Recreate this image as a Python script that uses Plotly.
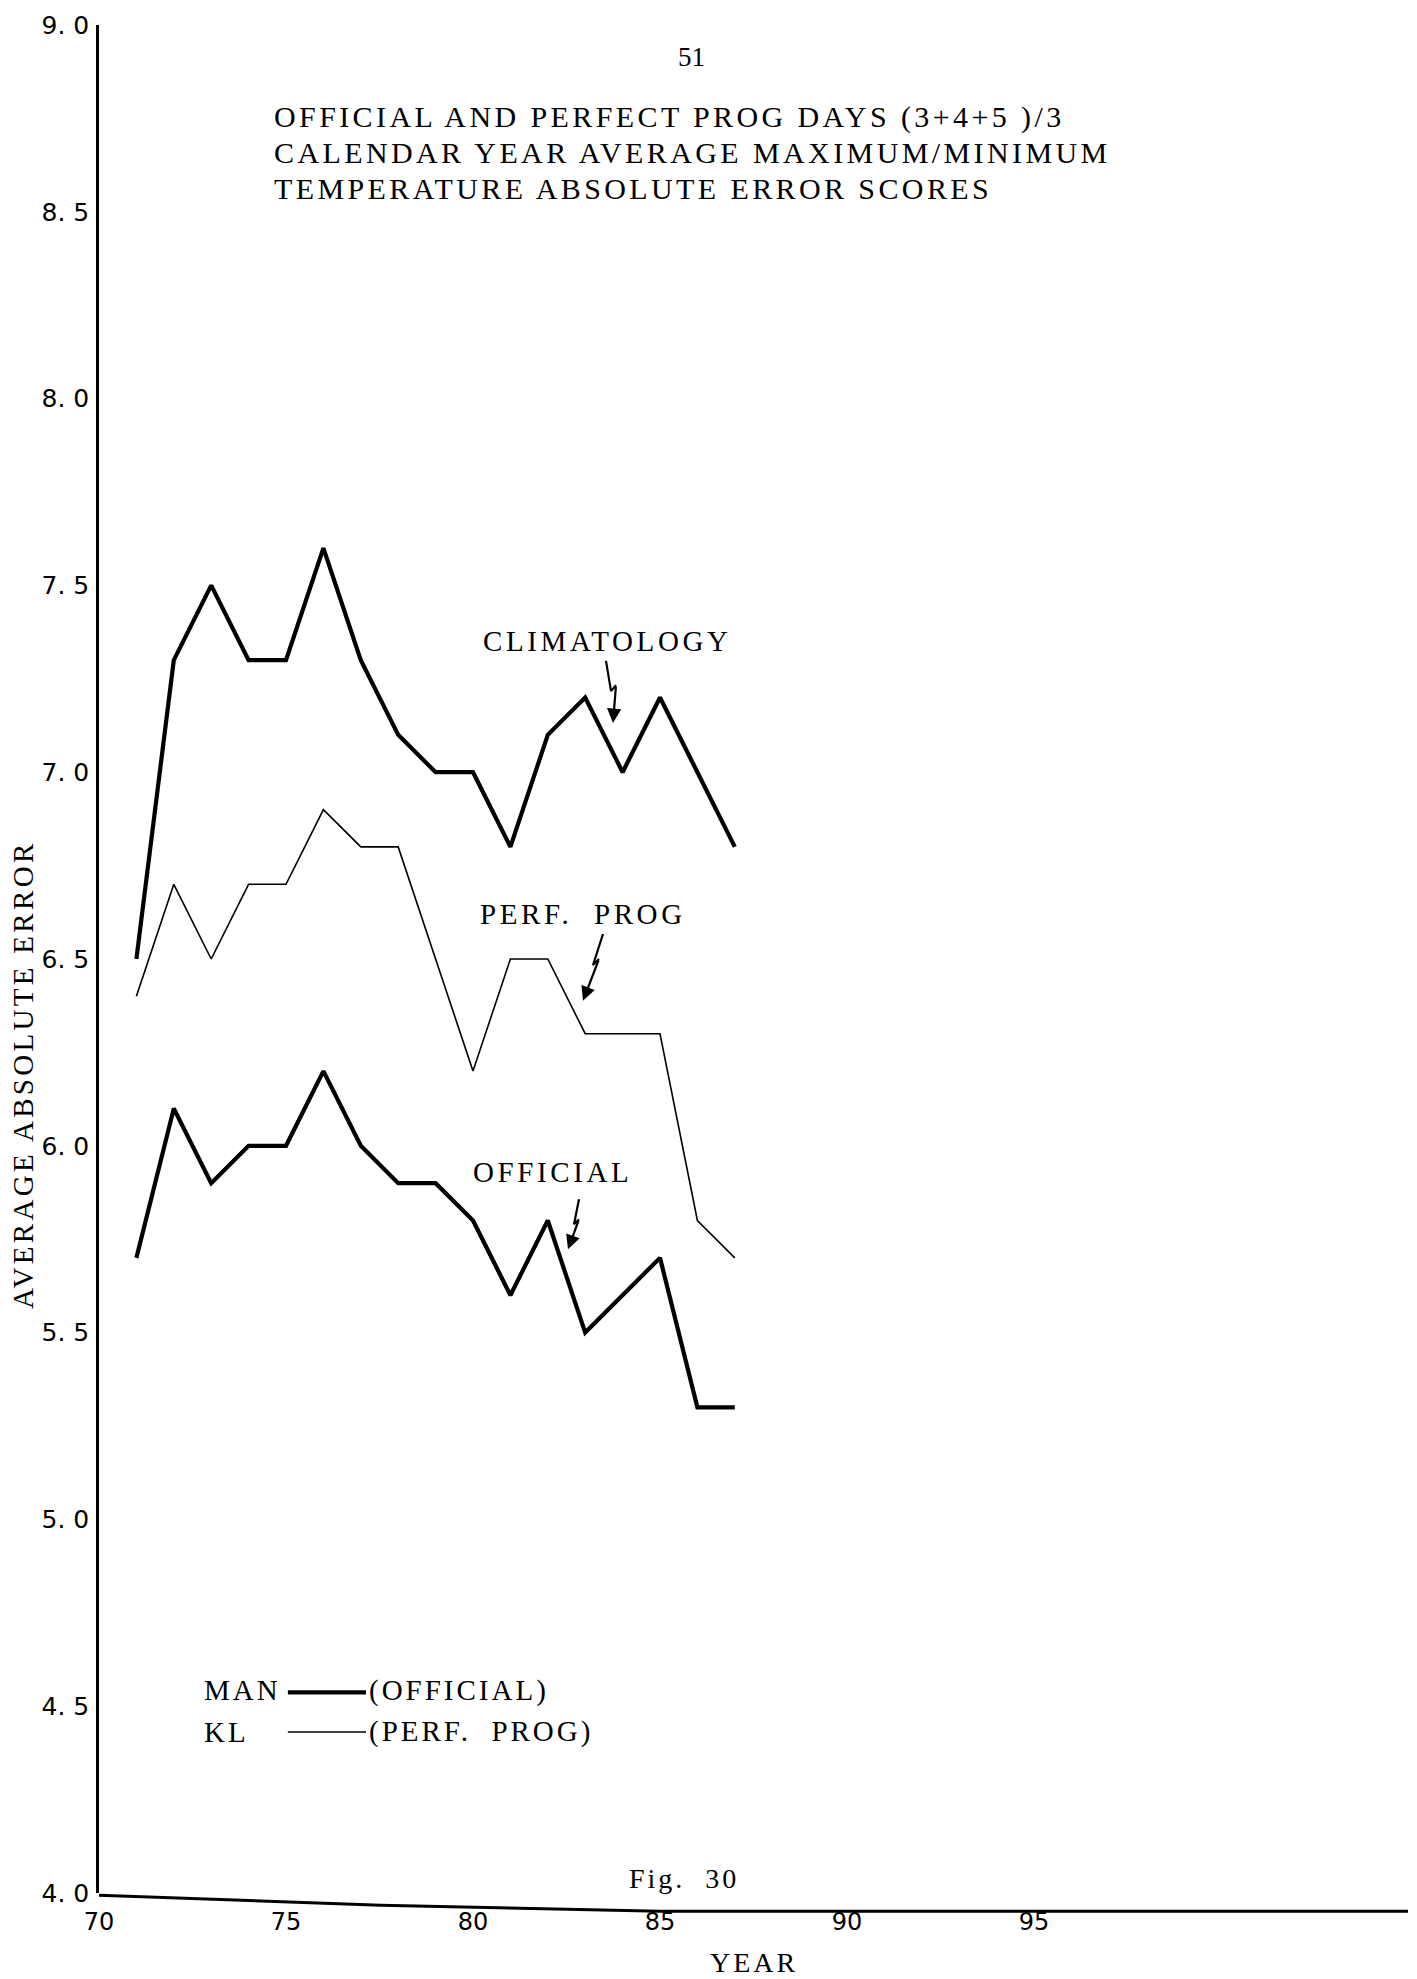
import plotly.graph_objects as go

# Calendar years (two-digit) and yearly average absolute error scores
years = [71, 72, 73, 74, 75, 76, 77, 78, 79, 80, 81, 82, 83, 84, 85, 86, 87]
climatology = [6.5, 7.3, 7.5, 7.3, 7.3, 7.6, 7.3, 7.1, 7.0, 7.0, 6.8, 7.1, 7.2, 7.0, 7.2, 7.0, 6.8]
perf_prog = [6.4, 6.7, 6.5, 6.7, 6.7, 6.9, 6.8, 6.8, 6.5, 6.2, 6.5, 6.5, 6.3, 6.3, 6.3, 5.8, 5.7]
official = [5.7, 6.1, 5.9, 6.0, 6.0, 6.2, 6.0, 5.9, 5.9, 5.8, 5.6, 5.8, 5.5, 5.6, 5.7, 5.3, 5.3]

x_tick_vals = [70, 75, 80, 85, 90, 95]
x_tick_text = ["70", "75", "80", "85", "90", "95"]
y_tick_vals = [4.0, 4.5, 5.0, 5.5, 6.0, 6.5, 7.0, 7.5, 8.0, 8.5, 9.0]
y_tick_text = ["4. 0", "4. 5", "5. 0", "5. 5", "6. 0", "6. 5", "7. 0", "7. 5", "8. 0", "8. 5", "9. 0"]

title_lines = [
    "OFFICIAL AND PERFECT PROG DAYS (3+4+5 )/3",
    "CALENDAR YEAR AVERAGE MAXIMUM/MINIMUM",
    "TEMPERATURE ABSOLUTE ERROR SCORES",
]

# Lightning-style pointer arrows (year, error) from each label down to its curve
clim_arrow_x = [83.556, 83.690, 83.824, 83.743]
clim_arrow_y = [7.298, 7.217, 7.233, 7.132]
pp_arrow_x = [83.476, 83.209, 83.369, 82.941]
pp_arrow_y = [6.567, 6.484, 6.500, 6.388]
off_arrow_x = [82.834, 82.701, 82.834, 82.540]
off_arrow_y = [5.857, 5.790, 5.803, 5.723]

SERIF = "Liberation Serif, Times New Roman, serif"
SANS = "DejaVu Sans, Verdana, sans-serif"
NB = "\u00a0"


def spaced(text, px):
    """Typewriter-like widely spaced lettering."""
    return f'<span style="letter-spacing:{px}px">{text}</span>'


fig = go.Figure()

fig.add_trace(go.Scatter(x=years, y=climatology, mode="lines",
                         line=dict(color="black", width=4.2), name="CLIMATOLOGY"))
fig.add_trace(go.Scatter(x=years, y=perf_prog, mode="lines",
                         line=dict(color="black", width=1.6), name="KL (PERF. PROG)"))
fig.add_trace(go.Scatter(x=years, y=official, mode="lines",
                         line=dict(color="black", width=4.2), name="MAN (OFFICIAL)"))

arrows = [(clim_arrow_x, clim_arrow_y), (pp_arrow_x, pp_arrow_y), (off_arrow_x, off_arrow_y)]

# zigzag shafts of the pointer arrows; the heads are added as annotations
for ax_, ay_ in arrows:
    fig.add_trace(go.Scatter(x=ax_[:-1], y=ay_[:-1], mode="lines",
                             line=dict(color="black", width=2.2), hoverinfo="skip"))

annotations = []
for ax_, ay_ in arrows:
    annotations.append(dict(x=ax_[-1], y=ay_[-1], ax=ax_[-2], ay=ay_[-2],
                            xref="x", yref="y", axref="x", ayref="y",
                            text="", showarrow=True, arrowhead=2, arrowsize=1.3,
                            arrowwidth=2.2, arrowcolor="black", standoff=0, startstandoff=0))

# page number
annotations.append(dict(x=85.83, y=8.915, xref="x", yref="y", text="51",
                        showarrow=False, xanchor="center", yanchor="middle",
                        font=dict(family=SERIF, size=27, color="black")))

# title block
for text, yv in zip(title_lines, [8.754, 8.658, 8.562]):
    annotations.append(dict(x=74.63, y=yv, xref="x", yref="y", text=spaced(text, 3.4),
                            showarrow=False, xanchor="left", yanchor="middle",
                            font=dict(family=SERIF, size=30, color="black")))

# curve labels
for text, xv, yv in [("CLIMATOLOGY", 80.21, 7.351),
                     ("PERF." + NB + " PROG", 80.13, 6.621),
                     ("OFFICIAL", 79.95, 5.930)]:
    annotations.append(dict(x=xv, y=yv, xref="x", yref="y", text=spaced(text, 3.6),
                            showarrow=False, xanchor="left", yanchor="middle",
                            font=dict(family=SERIF, size=29, color="black")))

# key
for text, xv, yv in [("MAN", 72.75, 4.543), ("KL", 72.75, 4.431),
                     ("(OFFICIAL)", 77.17, 4.543), ("(PERF." + NB + " PROG)", 77.17, 4.431)]:
    annotations.append(dict(x=xv, y=yv, xref="x", yref="y", text=spaced(text, 3),
                            showarrow=False, xanchor="left", yanchor="middle",
                            font=dict(family=SERIF, size=29, color="black")))

# figure number and axis titles
annotations.append(dict(x=84.12, y=4.04, xref="x", yref="y",
                        text=spaced("Fig." + NB + " 30", 3),
                        showarrow=False, xanchor="left", yanchor="middle",
                        font=dict(family=SERIF, size=28, color="black")))
annotations.append(dict(x=0.465, y=-0.0371, xref="paper", yref="paper",
                        text=spaced("YEAR", 3),
                        showarrow=False, xanchor="left", yanchor="middle",
                        font=dict(family=SERIF, size=28, color="black")))
annotations.append(dict(x=-0.058, y=0.438, xref="paper", yref="paper",
                        text=spaced("AVERAGE ABSOLUTE ERROR", 3.3), textangle=-90,
                        showarrow=False, xanchor="center", yanchor="middle",
                        font=dict(family=SERIF, size=29, color="black")))

shapes = [
    # key samples
    dict(type="line", xref="x", yref="y", x0=75.05, x1=77.14, y0=4.537, y1=4.537,
         line=dict(color="black", width=4.2)),
    dict(type="line", xref="x", yref="y", x0=75.05, x1=77.14, y0=4.431, y1=4.431,
         line=dict(color="black", width=1.6)),
    # hand-ruled baseline, sagging slightly to the right
    dict(type="path", xref="paper", yref="paper",
         path="M 0,-0.0012 L 0.215,-0.0066 L 0.429,-0.0098 L 1,-0.0098",
         line=dict(color="black", width=3)),
]

fig.update_layout(
    width=1417, height=1979, autosize=False,
    margin=dict(l=99, r=9, t=25, b=86),
    paper_bgcolor="white", plot_bgcolor="white",
    showlegend=False,
    annotations=annotations,
    shapes=shapes,
    xaxis=dict(range=[70, 105], tickvals=x_tick_vals, ticktext=x_tick_text,
               showgrid=False, zeroline=False, showline=False,
               ticks="", ticklabelstandoff=12,
               tickfont=dict(family=SANS, size=24, color="black")),
    yaxis=dict(range=[4.0, 9.0], tickvals=y_tick_vals, ticktext=y_tick_text,
               showgrid=False, zeroline=False, showline=True, linecolor="black",
               linewidth=2.5, ticks="", ticklabelstandoff=2,
               tickfont=dict(family=SANS, size=25, color="black")),
)

fig.write_html("out.html")
